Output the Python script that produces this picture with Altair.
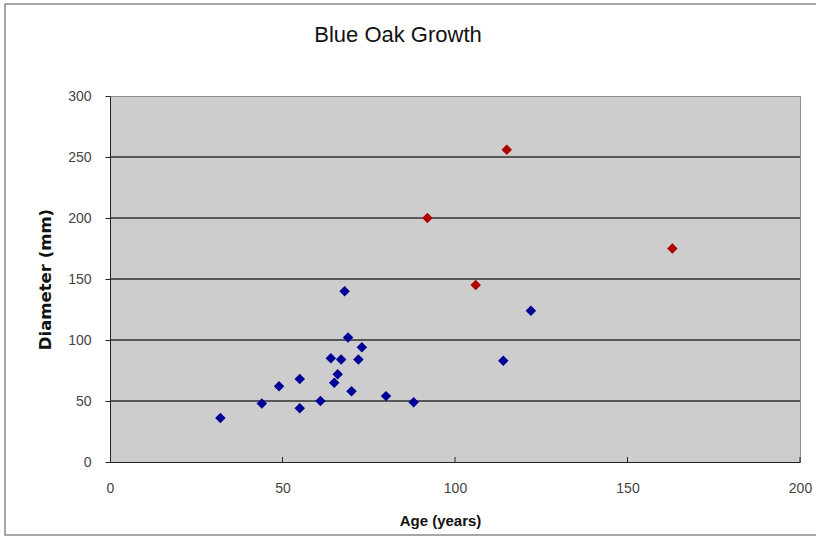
import altair as alt
import pandas as pd

# ---- data ----
blue_age = [32, 44, 49, 55, 55, 61, 64, 67, 66, 65, 68, 69, 73, 72, 70, 80, 88, 114, 122]
blue_diam = [36, 48, 62, 68, 44, 50, 85, 84, 72, 65, 140, 102, 94, 84, 58, 54, 49, 83, 124]
red_age = [115, 92, 106, 163]
red_diam = [256, 200, 145, 175]

title_text = "Blue Oak Growth"
x_title = "Age (years)"
y_title = "Diameter (mm)"
x_ticks = [0, 50, 100, 150, 200]
y_ticks = [0, 50, 100, 150, 200, 250, 300]
grid_values = [50, 100, 150, 200, 250]
inner_ticks = [50, 100, 150, 200]

df = pd.DataFrame({
    "age": blue_age + red_age,
    "diam": blue_diam + red_diam,
    "series": ["blue"] * len(blue_age) + ["red"] * len(red_age),
})

W, H = 690, 366

xs = alt.Scale(domain=[0, 200], nice=False, zero=False)
ys = alt.Scale(domain=[0, 300], nice=False, zero=False)

border = alt.Chart(pd.DataFrame({"a": [0]})).mark_rect(
    stroke="#8a8a8a", strokeWidth=1.5, fillOpacity=0
).encode(
    x=alt.value(-105), x2=alt.value(720), y=alt.value(-92), y2=alt.value(H + 73)
)

grid = alt.Chart(pd.DataFrame({"g": grid_values})).mark_rule(
    color="#303030", strokeWidth=1.6
).encode(y=alt.Y("g:Q", scale=ys), x=alt.value(0), x2=alt.value(W))

ticks = alt.Chart(pd.DataFrame({"t": inner_ticks})).mark_rule(
    color="#222222", strokeWidth=1
).encode(x=alt.X("t:Q", scale=xs), y=alt.value(H), y2=alt.value(H - 5))

points = alt.Chart(df).mark_point(
    shape="diamond", filled=True, size=110, opacity=1
).encode(
    x=alt.X("age:Q", scale=xs, title=x_title,
            axis=alt.Axis(values=x_ticks, grid=False, ticks=False, labelFlush=False,
                          domainColor="#222222", labelFont="Liberation Sans",
                          labelFontSize=14, labelColor="#444444", labelPadding=19,
                          titleFont="Liberation Sans", titleFontSize=15,
                          titleFontWeight="bold", titleColor="#111111",
                          titleX=330, titleY=63, titleBaseline="alphabetic")),
    y=alt.Y("diam:Q", scale=ys, title=y_title,
            axis=alt.Axis(values=y_ticks, grid=False, tickSize=5,
                          tickColor="#222222", domainColor="#222222",
                          labelFont="Liberation Sans", labelFontSize=14,
                          labelColor="#444444", labelPadding=14,
                          titleFont="DejaVu Sans", titleFontSize=16.5,
                          titleFontWeight="bold", titleColor="#111111",
                          titleX=-65, titleY=183, titleAngle=270,
                          titleBaseline="middle", titleAlign="center")),
    color=alt.Color("series:N",
                    scale=alt.Scale(domain=["blue", "red"], range=["#000099", "#b00000"]),
                    legend=None),
)

title = alt.Chart(pd.DataFrame({"t": [title_text]})).mark_text(
    font="Liberation Sans", fontSize=22, color="#111111",
    align="center", baseline="middle"
).encode(text="t:N", x=alt.value(288), y=alt.value(-61))

chart = alt.layer(border, grid, ticks, points, title).properties(
    width=W, height=H,
    padding={"left": 110, "top": 96, "right": 16, "bottom": 74},
    autosize=alt.AutoSizeParams(type="none"),
    background="white",
).configure_view(stroke="#8c8c8c", strokeWidth=1, fill="#cdcdcd")

chart.save("out.html", embed_options={"renderer": "svg", "actions": False})
